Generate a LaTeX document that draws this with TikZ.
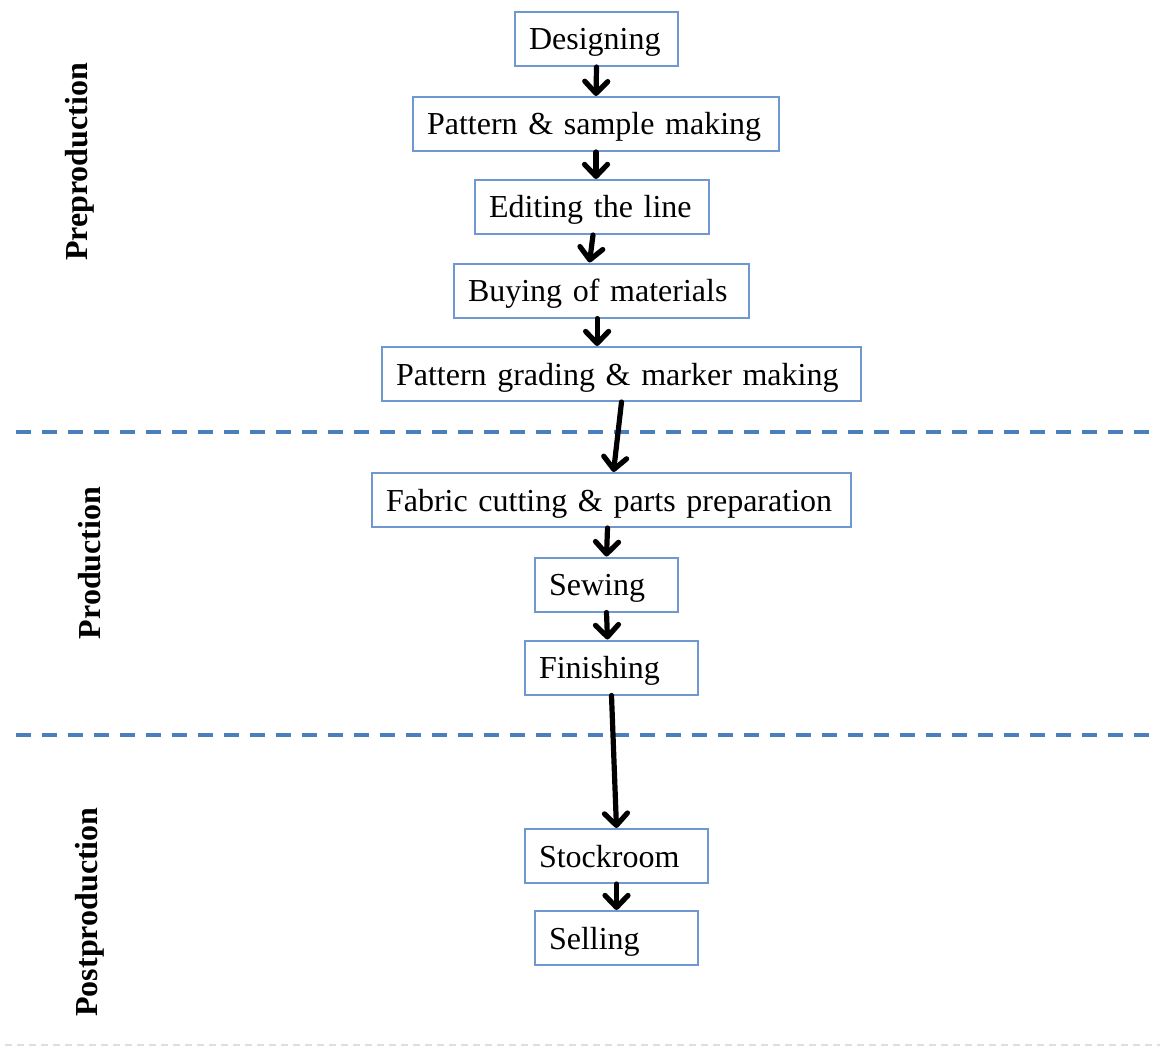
\documentclass[tikz,border=0pt]{standalone}
\usepackage{fontspec}
\setmainfont{Liberation Serif}
\usetikzlibrary{arrows.meta}
\definecolor{boxblue}{RGB}{112,152,208}
\definecolor{sepblue}{RGB}{74,126,189}
\definecolor{pagegray}{RGB}{218,222,230}
\tikzset{
  stage/.style={draw=boxblue, line width=1pt, fill=white,
    minimum height=27pt, inner xsep=7pt, inner ysep=0pt,
    text height=13pt, text depth=2pt, align=left,
    font=\fontsize{16}{19}\selectfont},
  flow/.style={line width=2.6pt, line cap=round,
    -{Straight Barb[length=6pt, width=11.5pt, line cap=round, line join=round]}},
  phase/.style={rotate=90, font=\fontsize{16}{19}\selectfont\bfseries},
  separator/.style={sepblue, line width=2pt, dash pattern=on 7.5pt off 5.5pt},
}
\begin{document}
\begin{tikzpicture}[x=0.5pt, y=-0.5pt]
\useasboundingbox (0,0) rectangle (1166,1048);

% phase separators
\coordinate (s1a) at (16,432);  \coordinate (s1b) at (1160,432);
\coordinate (s2a) at (16,735);  \coordinate (s2b) at (1160,735);
\coordinate (s3a) at (5,1045);  \coordinate (s3b) at (1160,1045);
\draw[separator] (s1a) -- (s1b);
\draw[separator] (s2a) -- (s2b);
\draw[pagegray, line width=0.6pt, dash pattern=on 3.5pt off 2.5pt] (s3a) -- (s3b);

% phase labels
\node[phase] (pre)  at (80,162) {Preproduction};
\node[phase] (prod) at (90,563) {Production};
\node[phase] (post) at (90,912) {Postproduction};

% process steps
\node[stage, text width=67.5pt]  (b1)  at (596.5,39)   {\mbox{Designing}};
\node[stage, text width=169pt]   (b2)  at (596,124)    {\mbox{Pattern \& sample making}};
\node[stage, text width=103pt]   (b3)  at (592,207)    {\mbox{Editing the line}};
\node[stage, text width=133.5pt] (b4)  at (601.5,290.5){\mbox{Buying of materials}};
\node[stage, text width=225.5pt] (b5)  at (621.5,374)  {\mbox{Pattern grading \& marker making}};
\node[stage, text width=225.5pt] (b6)  at (611.5,500)  {\mbox{Fabric cutting \& parts preparation}};
\node[stage, text width=57.5pt]  (b7)  at (606.5,584.5){\mbox{Sewing}};
\node[stage, text width=72.5pt]  (b8)  at (611.5,667.5){\mbox{Finishing}};
\node[stage, text width=77.5pt]  (b9)  at (616.5,856)  {\mbox{Stockroom}};
\node[stage, text width=67.5pt]  (b10) at (616.5,938)  {\mbox{Selling}};

% flow arrows
\draw[flow] (b1.south) -- (b2.north);
\draw[flow] (b2.south) -- ([xshift=2pt]b3.north);
\draw[flow] ([xshift=0.5pt]b3.south) -- ([xshift=-6pt]b4.north);
\draw[flow] ([xshift=-2.2pt]b4.south) -- ([xshift=-12.2pt]b5.north);
\draw[flow] (b5.south) -- ([xshift=1pt]b6.north);
\draw[flow] ([xshift=-2pt]b6.south) -- (b7.north);
\draw[flow] (b7.south) -- ([xshift=-2pt]b8.north);
\draw[flow] (b8.south) -- (b9.north);
\draw[flow] (b9.south) -- (b10.north);
\end{tikzpicture}
\end{document}
